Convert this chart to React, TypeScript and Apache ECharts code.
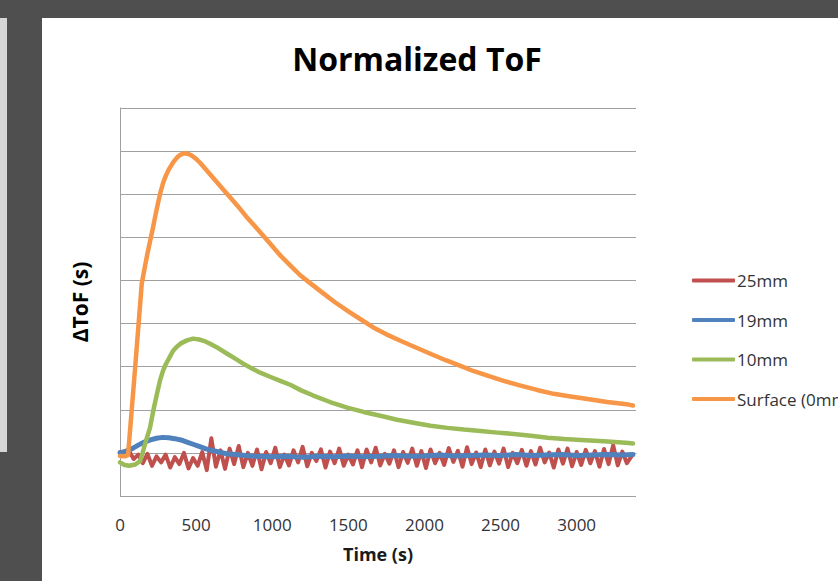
import { useEffect, useRef } from "react";
import * as echarts from "echarts";

const SERIES_NAMES = ["25mm", "19mm", "10mm", "Surface (0mm)"];
const SERIES_COLORS = ["#C0504D", "#4F81BD", "#9BBB59", "#F79646"];

// 25mm: noisy trace sampled every 30 s
const RED_STEP = 30;
const RED_V = [
  0.02, -0.06, 0.04, -0.14, -0.04, -0.24, -0.02, -0.3, -0.08, -0.22,
  -0.04, -0.34, -0.1, -0.26, 0.0, -0.36, -0.12, -0.3, 0.02, -0.4,
  0.34, -0.32, 0.06, -0.37, 0.1, -0.26, 0.16, -0.33, 0.0, -0.3,
  0.08, -0.38, 0.02, -0.24, 0.12, -0.33, -0.04, -0.29, 0.06, -0.22,
  0.14, -0.31, 0.0, -0.19, 0.08, -0.34, 0.03, -0.24, 0.1, -0.3,
  -0.04, -0.27, 0.06, -0.33, 0.08, -0.22, 0.12, -0.29, -0.02, -0.25,
  0.06, -0.33, 0.02, -0.23, 0.1, -0.3, 0.04, -0.35, 0.08, -0.24,
  0.0, -0.28, 0.11, -0.21, 0.05, -0.32, 0.13, -0.26, 0.01, -0.33,
  0.08, -0.29, 0.03, -0.25, 0.1, -0.33, 0.0, -0.24, 0.07, -0.3,
  0.04, -0.27, 0.12, -0.22, 0.01, -0.34, 0.08, -0.25, 0.1, -0.31,
  0.02, -0.28, 0.07, -0.24, 0.04, -0.32, 0.09, -0.26, 0.18, -0.29,
  0.03, -0.24, -0.08,
];

// 19mm
const BLUE_T = [
  0, 40, 80, 120, 160, 200, 240, 280, 320, 360,
  400, 440, 480, 520, 560, 600, 650, 700, 760, 820,
  900, 1000, 1100, 1200, 1300, 1400, 1500, 1600, 1700, 1800,
  1900, 2000, 2100, 2200, 2300, 2400, 2500, 2600, 2700, 2800,
  2900, 3000, 3100, 3200, 3300, 3370,
];
const BLUE_V = [
  0.0, 0.04, 0.1, 0.18, 0.25, 0.3, 0.34, 0.36, 0.35, 0.33,
  0.3, 0.25, 0.2, 0.15, 0.1, 0.06, 0.02, -0.02, -0.04, -0.06,
  -0.08, -0.09, -0.08, -0.1, -0.08, -0.09, -0.07, -0.09, -0.08, -0.06,
  -0.08, -0.07, -0.05, -0.07, -0.06, -0.05, -0.06, -0.04, -0.06, -0.05,
  -0.04, -0.06, -0.05, -0.04, -0.05, -0.04,
];

// 10mm
const GREEN_T = [
  0, 30, 60, 100, 132, 145, 160, 175, 197, 220,
  243, 263, 283, 300, 320, 349, 375, 400, 440, 480,
  520, 550, 592, 650, 704, 760, 809, 870, 921, 990,
  1053, 1118, 1190, 1270, 1380, 1493, 1600, 1710, 1820, 1928,
  2040, 2151, 2260, 2368, 2480, 2586, 2700, 2809, 2920, 3026,
  3180, 3342, 3370,
];
const GREEN_V = [
  -0.22, -0.28, -0.3, -0.27, -0.19, -0.05, 0.15, 0.33, 0.58, 1.0,
  1.37, 1.68, 1.91, 2.05, 2.18, 2.37, 2.47, 2.54, 2.61, 2.65,
  2.63, 2.6, 2.53, 2.42, 2.3, 2.18, 2.07, 1.95, 1.86, 1.76,
  1.67, 1.58, 1.45, 1.33, 1.18, 1.05, 0.95, 0.86, 0.77, 0.7,
  0.63, 0.58, 0.54, 0.51, 0.47, 0.44, 0.4, 0.35, 0.32, 0.3,
  0.27, 0.23, 0.22,
];

// Surface (0mm)
const ORANGE_T = [
  0, 30, 53, 100, 143, 160, 180, 200, 217, 235,
  250, 265, 283, 300, 320, 349, 370, 390, 410, 428,
  450, 470, 500, 526, 590, 658, 710, 770, 830, 901,
  980, 1053, 1118, 1184, 1270, 1336, 1410, 1493, 1580, 1664,
  1750, 1842, 1940, 2039, 2140, 2237, 2320, 2414, 2520, 2632,
  2740, 2849, 2960, 3072, 3200, 3342, 3370,
];
const ORANGE_V = [
  -0.07, -0.08, -0.05, 2.0, 3.93, 4.25, 4.62, 4.95, 5.23, 5.55,
  5.8, 6.03, 6.26, 6.42, 6.57, 6.74, 6.83, 6.9, 6.94, 6.95,
  6.93, 6.9, 6.82, 6.73, 6.47, 6.19, 5.98, 5.74, 5.48, 5.2,
  4.88, 4.58, 4.35, 4.12, 3.88, 3.7, 3.5, 3.3, 3.1, 2.91,
  2.75, 2.6, 2.45, 2.3, 2.15, 2.02, 1.9, 1.79, 1.67, 1.56,
  1.46, 1.37, 1.31, 1.25, 1.18, 1.12, 1.1,
];

const X_MIN = 0;
const X_MAX = 3390;
const X_INTERVAL = 500;
const Y_MIN = -1;
const Y_MAX = 8;
const Y_INTERVAL = 1;

const pairs = (t: number[], v: number[]) => v.map((y, i) => [t[i], y]);

export default function App() {
  const ref = useRef<HTMLDivElement>(null);
  useEffect(() => {
    const chart = echarts.init(ref.current!, null, { renderer: "svg" });
    const redData = RED_V.map((y, i) => [i * RED_STEP, y]);
    const datas = [
      redData,
      pairs(BLUE_T, BLUE_V),
      pairs(GREEN_T, GREEN_V),
      pairs(ORANGE_T, ORANGE_V),
    ];
    const widths = [4, 5, 4.5, 4.5];
    const font = "'Open Sans', 'Noto Sans', sans-serif";
    chart.setOption({
      animation: false,
      backgroundColor: "#ffffff",
      graphic: [
        { type: "rect", shape: { x: 0, y: 0, width: 838, height: 18 }, style: { fill: "#4f4f4f" }, silent: true },
        { type: "rect", shape: { x: 0, y: 18, width: 42, height: 563 }, style: { fill: "#4f4f4f" }, silent: true },
        { type: "rect", shape: { x: 0, y: 18, width: 7, height: 434 }, style: { fill: "#d6d6d6" }, silent: true },
      ],
      title: {
        text: "Normalized ToF",
        left: 417,
        textAlign: "center",
        top: 42,
        padding: 0,
        textStyle: { fontFamily: font, fontSize: 32, fontWeight: "bold", color: "#000000" },
      },
      legend: {
        orient: "vertical",
        left: 692,
        top: 272,
        padding: 0,
        itemGap: 22.5,
        itemWidth: 43,
        itemHeight: 4,
        icon: "roundRect",
        data: SERIES_NAMES,
        textStyle: { fontFamily: font, fontSize: 17, color: "#333333", padding: [0, 0, 0, -3] },
      },
      grid: { left: 120, top: 108, right: 202, bottom: 85, containLabel: false },
      xAxis: {
        type: "value",
        min: X_MIN,
        max: X_MAX,
        interval: X_INTERVAL,
        name: "Time (s)",
        nameLocation: "middle",
        nameGap: 49,
        nameTextStyle: { fontFamily: font, fontSize: 18, fontWeight: "bold", color: "#1a1a1a" },
        axisLine: { show: true, lineStyle: { color: "#a0a0a0", width: 1 } },
        axisTick: { show: false },
        splitLine: { show: false },
        axisLabel: {
          margin: 20,
          showMaxLabel: false,
          fontFamily: font,
          fontSize: 17,
          color: "#333333",
          formatter: (v: number) => String(v),
        },
      },
      yAxis: {
        type: "value",
        min: Y_MIN,
        max: Y_MAX,
        interval: Y_INTERVAL,
        name: "ΔToF (s)",
        nameLocation: "middle",
        nameGap: 30,
        nameTextStyle: { fontFamily: font, fontSize: 21, fontWeight: "bold", color: "#000000" },
        axisLine: { show: true, lineStyle: { color: "#a0a0a0", width: 1 } },
        axisTick: { show: false },
        axisLabel: { show: false },
        splitLine: { show: true, lineStyle: { color: "#a0a0a0", width: 1 } },
      },
      series: SERIES_NAMES.map((name, i) => ({
        name,
        type: "line",
        data: datas[i],
        showSymbol: false,
        symbol: "none",
        smooth: false,
        color: SERIES_COLORS[i],
        lineStyle: { color: SERIES_COLORS[i], width: widths[i], cap: "round", join: "round" },
        z: 2 + i,
      })),
    });
    return () => chart.dispose();
  }, []);
  return (
    <div
      ref={ref}
      style={{ position: "fixed", left: 0, top: 0, width: 838, height: 581 }}
    />
  );
}
